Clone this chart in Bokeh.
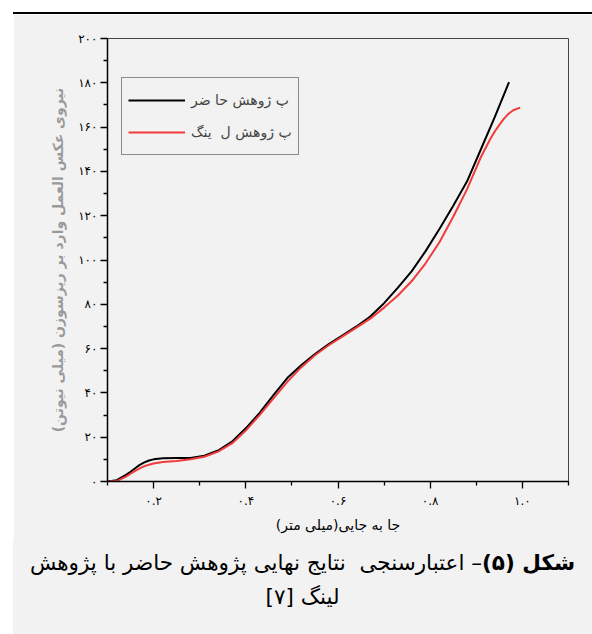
from bokeh.plotting import figure
from bokeh.models import (FixedTicker, CustomJSTickFormatter, Div, Spacer,
                          Legend, LegendItem)
from bokeh.layouts import row, column
from bokeh.embed import file_html
from bokeh.resources import INLINE

# ---------------- data ----------------
x_present = [0.10, 0.12, 0.14, 0.15, 0.16, 0.17, 0.18, 0.19, 0.20, 0.21, 0.22, 0.25, 0.28,
             0.31, 0.34, 0.37, 0.40, 0.43, 0.46, 0.49, 0.52, 0.55, 0.58, 0.61, 0.64, 0.67,
             0.70, 0.73, 0.76, 0.79, 0.82, 0.85, 0.88, 0.91, 0.94, 0.971]
y_present = [0.0, 0.6, 3.0, 4.4, 6.0, 7.5, 8.6, 9.5, 10.0, 10.3, 10.5, 10.6, 10.6,
             11.6, 14.0, 18.0, 24.0, 31.0, 39.0, 46.7, 52.5, 57.5, 62.0, 66.0, 70.0, 74.5,
             80.5, 87.5, 95.0, 104.0, 114.0, 124.5, 135.5, 150.0, 164.5, 180.3]

x_ling = [0.10, 0.12, 0.14, 0.15, 0.16, 0.17, 0.18, 0.19, 0.20, 0.21, 0.22, 0.25, 0.28,
          0.31, 0.34, 0.37, 0.40, 0.43, 0.46, 0.49, 0.52, 0.55, 0.58, 0.61, 0.64, 0.67,
          0.70, 0.73, 0.76, 0.79, 0.82, 0.85, 0.88, 0.91, 0.93, 0.94, 0.95, 0.96, 0.97,
          0.98, 0.995]
y_ling = [0.0, 0.2, 2.2, 3.5, 4.8, 5.9, 6.9, 7.6, 8.1, 8.5, 8.8, 9.3, 10.0,
          11.2, 13.5, 17.2, 23.0, 30.0, 37.5, 45.0, 51.5, 57.0, 61.5, 65.5, 69.5, 73.5,
          78.5, 84.0, 90.5, 98.5, 108.0, 119.5, 132.0, 146.5, 154.5, 158.0, 161.0, 163.8, 166.0,
          167.6, 168.8]

x_ticks = [0.2, 0.4, 0.6, 0.8, 1.0]
x_tick_labels = ["۰.۲", "۰.۴", "۰.۶", "۰.۸", "۱.۰"]
x_minor = [0.1, 0.3, 0.5, 0.7, 0.9, 1.1]
y_ticks = [0, 20, 40, 60, 80, 100, 120, 140, 160, 180, 200]
y_tick_labels = ["۰", "۲۰", "۴۰", "۶۰", "۸۰", "۱۰۰", "۱۲۰", "۱۴۰", "۱۶۰", "۱۸۰", "۲۰۰"]
y_minor = [10, 30, 50, 70, 90, 110, 130, 150, 170, 190]

label_present = "پ ژوهش حا ضر"
label_ling = "پ ژوهش ل  ینگ"
x_title = "\u200fجا به جایی(میلی متر)\u200f"
y_title = "\u200fنیروی عکس العمل وارد بر ریزسوزن (میلی نیوتن)\u200f"
cap_bold = "شکل (۵)"
cap_rest = "– اعتبارسنجی  نتایج نهایی پژوهش حاضر با پژوهش"
cap_line2 = "لینگ [۷]"

FONT = "DejaVu Sans"
BG = "#f2f2f2"
W = 579

# ---------------- main figure ----------------
p = figure(width=W, height=526, x_range=(0.1, 1.1), y_range=(0, 200),
           output_backend="svg", toolbar_location=None,
           min_border_left=94, min_border_right=W - 94 - 461, min_border_top=24,
           min_border_bottom=59,
           background_fill_color=BG, border_fill_color=BG)
p.grid.visible = False
p.outline_line_color = "#444444"
p.outline_line_width = 1

r1 = p.line(x_present, y_present, line_color="black", line_width=2)
r2 = p.line(x_ling, y_ling, line_color="#f03c3c", line_width=2)

fmt_code = """
let best = 0; let bd = 1e9;
for (let i = 0; i < tv.length; i++) {
  const d = Math.abs(tv[i] - tick);
  if (d < bd) { bd = d; best = i; }
}
return bd < 1e-6 ? lbl[best] : "";
"""
p.xaxis.ticker = FixedTicker(ticks=x_ticks, minor_ticks=x_minor)
p.xaxis.formatter = CustomJSTickFormatter(args=dict(tv=x_ticks, lbl=x_tick_labels), code=fmt_code)
p.yaxis.ticker = FixedTicker(ticks=y_ticks, minor_ticks=y_minor)
p.yaxis.formatter = CustomJSTickFormatter(args=dict(tv=y_ticks, lbl=y_tick_labels), code=fmt_code)

for ax in (p.xaxis[0], p.yaxis[0]):
    ax.axis_line_color = "black"
    ax.axis_line_width = 1.5
    ax.major_tick_line_color = "black"
    ax.minor_tick_line_color = "black"
    ax.major_tick_line_width = 1.3
    ax.minor_tick_line_width = 1.3
    ax.major_tick_in = 0
    ax.major_tick_out = 7
    ax.minor_tick_in = 0
    ax.minor_tick_out = 4
    ax.major_label_text_font = FONT
    ax.major_label_text_font_size = "12px"
    ax.major_label_text_color = "black"

p.xaxis.major_label_standoff = 5
p.yaxis.major_label_standoff = 3
p.xaxis.axis_label = x_title
p.xaxis.axis_label_text_font = FONT
p.xaxis.axis_label_text_font_size = "14px"
p.xaxis.axis_label_text_font_style = "normal"
p.xaxis.axis_label_text_color = "black"
p.xaxis.axis_label_standoff = 6

p.yaxis.axis_label = y_title
p.yaxis.axis_label_text_font = FONT
p.yaxis.axis_label_text_font_size = "14px"
p.yaxis.axis_label_text_font_style = "bold"
p.yaxis.axis_label_text_color = "#9a9a9a"
p.yaxis.axis_label_standoff = 9

legend = Legend(items=[LegendItem(label=label_present, renderers=[r1]),
                       LegendItem(label=label_ling, renderers=[r2])],
                location=(14, 326), orientation="vertical",
                glyph_width=57, glyph_height=32, label_height=32, spacing=0, padding=6,
                label_standoff=6, margin=0,
                label_text_font=FONT, label_text_font_size="14px",
                border_line_color="#222222", border_line_width=1,
                background_fill_color=BG, background_fill_alpha=1)
p.add_layout(legend, "center")

# ---------------- caption (HTML paragraph, right-to-left) ----------------
base = (f"font-family:'{FONT}';font-size:21.5px;line-height:34px;color:black;"
        f"width:{W}px;margin:0;padding:0;white-space:pre;text-align:center;")
cap_html = (f'<div dir="rtl" style="{base}"><b>{cap_bold}</b>{cap_rest}</div>'
            f'<div dir="rtl" style="{base}">{cap_line2}</div>')
caption = Div(text=cap_html, width=W, height=94, margin=0,
              styles={"background-color": BG, "padding-top": "6px",
                      "box-sizing": "border-box"})

top_rule = Div(text="", width=W, height=2, margin=0,
               styles={"background-color": "black"})
layout = row(Spacer(width=13, height=10, margin=0),
             column(Spacer(width=W, height=12, margin=0), top_rule, p, caption, spacing=0),
             spacing=0)

open("out.html", "w").write(file_html(layout, INLINE))
